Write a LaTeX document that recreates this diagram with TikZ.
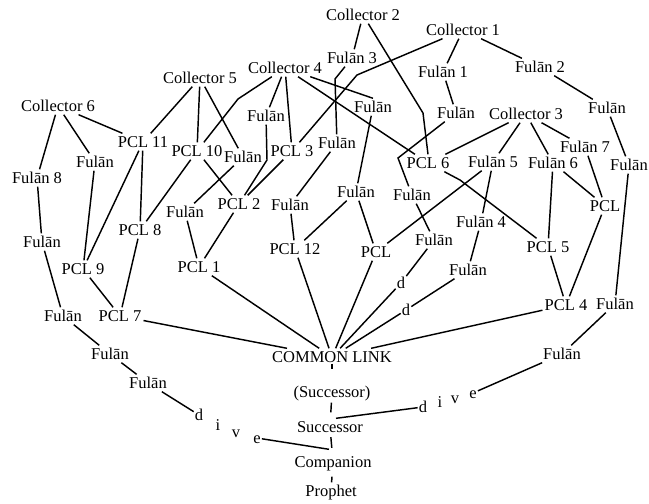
\documentclass[tikz,border=0pt]{standalone}
\usepackage{fontspec}
\setmainfont{Liberation Serif}
\begin{document}
\begin{tikzpicture}[x=1pt,y=-1pt,
  lbl/.style={inner sep=2pt, text height=12pt, text depth=1pt, font=\fontsize{16.5}{20}\selectfont},
  ltr/.style={inner sep=1pt, text height=11pt, text depth=1pt, font=\fontsize{16.5}{20}\selectfont},
  ln/.style={line width=1.45pt},
  tick/.style={line width=1.45pt}]
\useasboundingbox (0,0) rectangle (649,504);

% collectors
\node[lbl] (c2) at (363,15) {Collector 2};
\node[lbl] (c1) at (463,30) {Collector 1};
\node[lbl] (c4) at (285,68) {Collector 4};
\node[lbl] (c5) at (200,78) {Collector 5};
\node[lbl] (c6) at (58,106) {Collector 6};
\node[lbl] (c3) at (526,114) {Collector 3};

% transmitters, upper tier
\node[lbl] (f3) at (352,58) {Fulān 3};
\node[lbl] (f1) at (443,72) {Fulān 1};
\node[lbl] (f2) at (540,67) {Fulān 2};
\node[lbl] (fa) at (266,116) {Fulān};
\node[lbl] (fb) at (373,107) {Fulān};
\node[lbl] (fc) at (456,113) {Fulān};
\node[lbl] (fd) at (607,108) {Fulān};
\node[lbl] (p11) at (143,142) {PCL 11};
\node[lbl] (fe) at (95,162) {Fulān};
\node[lbl] (p10) at (197,151) {PCL 10};
\node[lbl] (ff) at (243,157) {Fulān};
\node[lbl] (p3) at (292,151) {PCL 3};
\node[lbl] (fg) at (337,143) {Fulān};
\node[lbl] (p6) at (428,163) {PCL 6};
\node[lbl] (f5) at (493,162) {Fulān 5};
\node[lbl] (f6) at (553,163) {Fulān 6};
\node[lbl] (f7) at (585,147) {Fulān 7};
\node[lbl] (fh) at (629,165) {Fulān};

% middle tier
\node[lbl] (f8) at (37,178) {Fulān 8};
\node[lbl] (fi) at (356,192) {Fulān};
\node[lbl] (fj) at (412,195) {Fulān};
\node[lbl] (fk) at (185,212) {Fulān};
\node[lbl] (p2) at (239,204) {PCL 2};
\node[lbl] (fl) at (290,205) {Fulān};
\node[lbl] (pr) at (605,206) {PCL};
\node[lbl] (p8) at (140,230) {PCL 8};
\node[lbl] (fm) at (42,242) {Fulān};
\node[lbl] (f4) at (481,222) {Fulān 4};
\node[lbl] (fn) at (434,240) {Fulān};
\node[lbl] (p12) at (295,249) {PCL 12};
\node[lbl] (pc) at (376,252) {PCL};
\node[lbl] (p5) at (548,247) {PCL 5};
\node[lbl] (p1) at (199,267) {PCL 1};
\node[lbl] (p9) at (83,269) {PCL 9};
\node[lbl] (fo) at (468,270) {Fulān};
\node[ltr] (d1) at (401,283) {d};
\node[ltr] (d2) at (406,310) {d};
\node[lbl] (p4) at (566,305) {PCL 4};
\node[lbl] (fp) at (615,304) {Fulān};
\node[lbl] (fq) at (63,316) {Fulān};
\node[lbl] (p7) at (120,316) {PCL 7};

% lower part
\node[lbl] (cl) at (332,357) {COMMON LINK};
\node[lbl] (fr) at (110,354) {Fulān};
\node[lbl] (fs) at (148,383) {Fulān};
\node[lbl] (ft) at (562,354) {Fulān};
\node[lbl] (sp) at (332,392) {(Successor)};
\node[lbl] (sc) at (330,427) {Successor};
\node[lbl] (cp) at (333,462) {Companion};
\node[lbl] (pp) at (331,491) {Prophet};

% the two dives
\node[ltr] (ld) at (199,415) {d};
\node[ltr] (li) at (218,425) {i};
\node[ltr] (lv) at (236,432) {v};
\node[ltr] (le) at (257,438) {e};
\node[ltr] (rd) at (423,407) {d};
\node[ltr] (ri) at (440,402) {i};
\node[ltr] (rv) at (455,398) {v};
\node[ltr] (re) at (473,393) {e};

% connections
\draw[ln] (c6) -- (f8);
\draw[ln] (c6) -- (fe);
\draw[ln] (c6) -- (p11);
\draw[ln] (c5) -- (p11);
\draw[ln] (c5) -- (p10);
\draw[ln] (c5) -- (ff);
\draw[ln] (c4) -- (238,99) -- (p10);
\draw[ln] (c4) -- (fa);
\draw[ln] (c4) -- (p3);
\draw[ln] (c4) -- (fb.north);
\draw[ln] (c4) -- (p6);
\draw[ln] (c2) -- (f3);
\draw[ln] (c2) -- (423,113) -- (p6.north);
\draw[ln] (c1) -- (f1);
\draw[ln] (c1) -- (f2);
\draw[ln] (c1) -- (357,75) -- (p3);
\draw[ln] (f3) -- (335,79) -- (fg);
\draw[ln] (f1) -- (fc);
\draw[ln] (f2) -- (fd);
\draw[ln] (fd) -- (fh);
\draw[ln] (fc) -- (398,158) -- (fj);
\draw[ln] (c3) -- (p6);
\draw[ln] (c3) -- (f5);
\draw[ln] (c3) -- (f6);
\draw[ln] (c3) -- (f7);
\draw[ln] (f7) -- (pr);
\draw[ln] (f6) -- (pr);
\draw[ln] (f6) -- (p5);
\draw[ln] (p6) -- (460,180) -- (p5);
\draw[ln] (f5) -- (pc);
\draw[ln] (f5) -- (f4);
\draw[ln] (fj) -- (fn);
\draw[ln] (f4) -- (fo);
\draw[ln] (fn) -- (d1);
\draw[ln] (d1) -- (cl);
\draw[ln] (fo) -- (d2);
\draw[ln] (d2) -- (cl);
\draw[ln] (pc) -- (cl);
\draw[ln] (p5) -- (p4);
\draw[ln] (pr) -- (p4);
\draw[ln] (p4) -- (cl);
\draw[ln] (fh) -- (fp);
\draw[ln] (fp) -- (ft);
\draw[ln] (ft) -- (re);
\draw[ln] (rd) -- ([xshift=6pt]sc.north);
\draw[ln] (f8) -- (fm);
\draw[ln] (fm) -- (fq);
\draw[ln] (fq) -- (fr);
\draw[ln] (fr) -- (fs);
\draw[ln] (fs) -- (ld);
\draw[ln] (le) -- ([xshift=-4pt,yshift=4pt]cp.north);
\draw[ln] (p11) -- (p9);
\draw[ln] (p11) -- (p8);
\draw[ln] (fe) -- (p9);
\draw[ln] (p10) -- (p8);
\draw[ln] (p10) -- (p2);
\draw[ln] (ff) -- (fk);
\draw[ln] (fa) -- (267,160) -- (p2);
\draw[ln] (p3) -- (p2);
\draw[ln] (fg) -- (fl);
\draw[ln] (fb) -- (fi);
\draw[ln] (fi) -- (p12);
\draw[ln] (fi) -- (pc);
\draw[ln] (fl) -- (p12);
\draw[ln] (p2) -- (p1);
\draw[ln] (fk) -- (p1);
\draw[ln] (p8) -- (p7);
\draw[ln] (p9) -- (p7);
\draw[ln] (p7) -- (cl);
\draw[ln] (p1) -- (cl);
\draw[ln] (p12) -- (cl);
\draw[tick, shorten <=-2pt, shorten >=14pt] (cl) -- (sp);
\draw[tick, shorten <=2pt, shorten >=6pt] (sp) -- (sc);
\draw[tick, shorten <=1.5pt, shorten >=5.5pt] (sc) -- (cp);
\draw[tick, shorten <=6pt, shorten >=0pt] (cp) -- (pp);
\end{tikzpicture}
\end{document}
